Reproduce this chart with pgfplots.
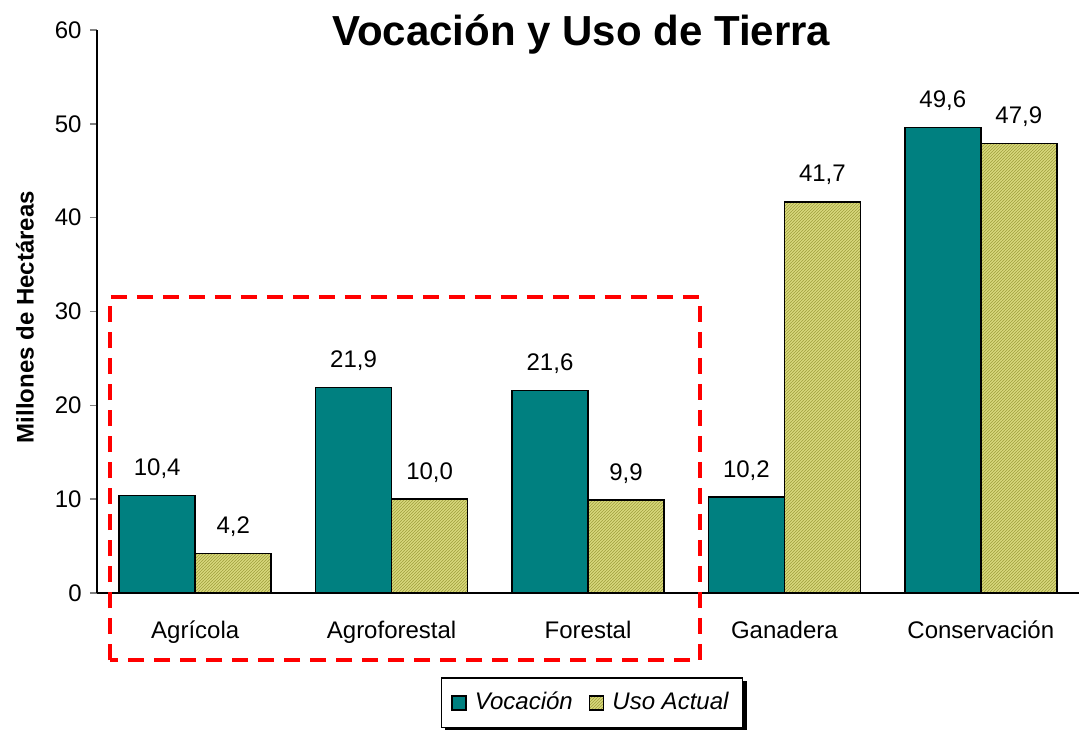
\documentclass[border=0pt,12pt]{standalone}
\usepackage{fontspec}
\setmainfont{Liberation Sans}
\usepackage{pgfplots}
\pgfplotsset{compat=1.18}
\usetikzlibrary{patterns.meta,backgrounds}

\definecolor{teal}{RGB}{0,128,128}
\definecolor{olivefill}{RGB}{214,214,122}
\definecolor{oliveline}{RGB}{160,160,60}

\tikzdeclarepattern{
  name=finelines,
  type=uncolored,
  bounding box={(0,0) and (1.6pt,1.6pt)},
  tile size={(1.6pt,1.6pt)},
  code={\draw[line width=0.35pt] (-0.2pt,-0.2pt) -- (1.8pt,1.8pt);}
}

\begin{document}
\begin{tikzpicture}
\begin{axis}[
    scale only axis,
    width=491pt, height=281.5pt,
    ybar=0pt,
    bar width=0.387,
    xmin=-0.5, xmax=4.5,
    ymin=0, ymax=60,
    ytick={0,10,...,60},
    xtick=data,
    xticklabels={Agrícola, Agroforestal, Forestal, Ganadera, Conservación},
    axis x line*=bottom,
    axis y line*=left,
    axis line style={line width=0.8pt},
    tick align=outside,
    major tick length=3.5pt,
    xtick style={draw=none},
    ytick style={line width=0.8pt},
    xticklabel style={yshift=-6pt, text height=9pt, text depth=3pt},
    /pgf/number format/assume math mode=true,
    tick label style={font=\fontsize{12}{14}\selectfont},
    clip=false,
    nodes near coords={\pgfmathprintnumber[fixed, fixed zerofill, precision=1, use comma]{\pgfplotspointmeta}},
    every node near coord/.append style={font=\fontsize{12}{14}\selectfont, yshift=4pt},
    legend columns=2,
    legend style={name=leg, at={(0.504,-0.195)}, anchor=center, draw=black, line width=0.8pt,
        fill=white, font=\fontsize{12}{14}\itshape, inner xsep=5pt, inner ysep=5pt,
        /tikz/every odd column/.append style={column sep=2pt},
        /tikz/every even column/.append style={column sep=6pt}},
    legend image code/.code={\draw[#1] (0pt,-3.5pt) rectangle (7pt,3.5pt);},
]
\addplot[fill=teal, draw=black, line width=0.8pt]
  coordinates {(0,10.4) (1,21.9) (2,21.6) (3,10.2) (4,49.6)};
\addlegendentry{Vocación}
\addplot[fill=olivefill, draw=black, line width=0.8pt,
    postaction={pattern=finelines, pattern color=oliveline}]
  coordinates {(0,4.2) (1,10.0) (2,9.9) (3,41.7) (4,47.9)};
\addlegendentry{Uso Actual}

\draw[red, line width=2pt, dash pattern=on 8pt off 5pt]
  (axis cs:-0.434,-7.14) rectangle (axis cs:2.57,31.56);

\node[anchor=base, font=\fontsize{21}{25}\bfseries] at ([yshift=-7.5pt]rel axis cs:0.493,1) {Vocación y Uso de Tierra};
\node[rotate=90, font=\fontsize{12}{14}\bfseries] at ([xshift=-36pt]rel axis cs:0,0.49) {Millones de Hectáreas};

\coordinate (bl) at (rel axis cs:0,0);
\coordinate (tr) at (rel axis cs:1,1);
\end{axis}
\begin{scope}[on background layer]
\fill[black] ([shift={(2pt,-2pt)}]leg.south west) rectangle ([shift={(2pt,-2pt)}]leg.north east);
\end{scope}
\pgfresetboundingbox
\path[use as bounding box] ([shift={(-48.5pt,-68pt)}]bl) rectangle ([shift={(0pt,15pt)}]tr);
\end{tikzpicture}
\end{document}
